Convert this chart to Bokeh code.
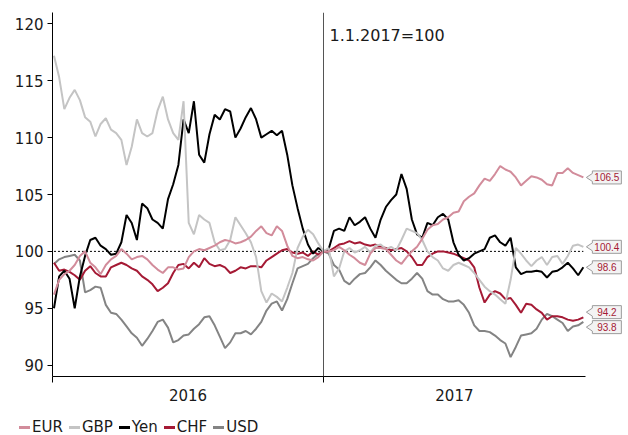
import pandas as pd
from bokeh.plotting import figure
from bokeh.layouts import column
from bokeh.models import Range1d, FixedTicker, Span, Label, Div
from bokeh.core.properties import value
from bokeh.embed import file_html
from bokeh.resources import INLINE

# ---------------- data (weekly, index 1.1.2017 = 100) ----------------
START = "2016-01-03"
SERIES = ["EUR", "GBP", "Yen", "CHF", "USD"]

EUR = [96.2, 97.5, 98.0, 98.3, 98.8, 99.6, 100.0, 99.0, 98.6, 98.0,
       98.8, 99.3, 99.6, 100.2, 99.8, 99.3, 99.5, 99.6, 99.3, 98.8,
       98.4, 98.1, 98.6, 98.6, 98.4, 98.5, 99.5, 100.0, 100.2, 100.1,
       100.3, 100.5, 100.8, 101.0, 100.9, 100.7, 100.8, 101.0, 101.3, 101.8,
       102.2, 101.6, 101.4, 102.2, 101.8, 100.5, 99.6, 99.4, 99.5, 99.3,
       99.2, 99.5, 100.0,
       100.0, 100.1, 100.4, 100.1, 99.7, 99.4, 99.0, 98.8, 99.8, 100.3,
       100.3, 100.2, 99.7, 99.2, 98.9, 99.5, 100.0, 100.4, 101.1, 101.9,
       102.3, 102.4, 102.8, 103.0, 103.4, 103.5, 104.4, 104.8, 105.1, 105.8,
       106.4, 106.2, 106.8, 107.5, 107.2, 107.0, 106.5, 105.8, 106.2, 106.6,
       106.5, 106.3, 105.9, 105.8, 106.9, 106.9, 107.3, 106.9, 106.7, 106.5]

GBP = [117.2, 115.3, 112.5, 113.5, 114.2, 113.3, 111.8, 111.4, 110.1, 111.2,
       111.7, 110.7, 110.4, 109.8, 107.6, 109.2, 111.6, 110.4, 110.1, 110.4,
       112.4, 113.6, 111.6, 110.4, 109.8, 113.2, 102.5, 101.5, 103.2, 102.8,
       102.5, 100.8, 100.1, 100.2, 101.0, 103.0, 102.3, 101.6, 100.8, 99.5,
       96.5, 95.5, 96.3, 96.0, 95.6, 96.8, 98.1, 100.3, 101.3, 101.9,
       101.5, 100.7, 100.0,
       100.3, 97.8, 98.5, 100.0, 100.3, 99.9, 100.1, 100.4, 99.9, 100.5,
       100.6, 100.2, 100.4, 100.1, 101.0, 102.0, 101.8, 101.6, 101.0, 100.0,
       99.5, 99.2, 98.5, 98.3, 98.8, 99.0, 98.8, 98.6, 98.1, 97.5,
       96.9, 96.5, 96.2, 95.8, 95.4, 97.5, 100.3, 99.8, 99.2, 98.7,
       99.2, 99.5, 98.8, 99.5, 99.6, 98.9, 99.6, 100.5, 100.6, 100.4]

YEN = [95.0, 97.8, 98.3, 97.6, 95.0, 97.8, 99.6, 101.0, 101.2, 100.5,
       100.2, 99.7, 99.8, 100.8, 103.2, 102.5, 101.0, 104.2, 103.8, 102.8,
       102.5, 102.0, 104.6, 105.9, 107.6, 111.6, 110.4, 113.2, 108.5, 107.8,
       110.3, 112.0, 111.6, 112.5, 112.3, 110.0, 110.8, 111.8, 112.6, 111.6,
       110.0, 110.3, 110.6, 110.2, 110.6, 108.5, 105.8, 103.8, 102.0, 100.6,
       99.8, 100.3, 100.0,
       100.2, 101.8, 102.0, 101.8, 103.0, 102.3, 102.6, 103.0, 102.0, 101.2,
       102.8, 103.9, 104.5, 105.0, 106.8, 105.5, 102.8, 101.5, 101.2, 102.5,
       102.3, 103.0, 103.3, 102.8, 100.8, 99.7, 99.2, 99.4, 99.8, 100.0,
       100.2, 101.2, 101.4, 100.8, 100.5, 101.2, 98.6, 98.0, 98.2, 98.2,
       98.3, 98.2, 97.7, 98.2, 98.3, 98.6, 99.0, 98.5, 97.9, 98.6]

CHF = [99.0, 98.3, 98.4, 98.2, 97.9, 97.5, 98.3, 98.7, 98.1, 97.8,
       97.8, 98.6, 98.8, 99.0, 98.8, 98.5, 98.3, 97.8, 97.5, 97.1,
       96.5, 96.8, 97.2, 98.1, 98.8, 98.9, 98.5, 99.0, 98.6, 99.4,
       98.9, 98.7, 98.8, 98.6, 98.1, 98.3, 98.6, 98.5, 98.7, 98.7,
       98.6, 99.2, 99.5, 99.8, 100.1, 100.2, 99.9, 99.8, 99.9, 99.6,
       100.0, 99.7, 100.0,
       100.0, 100.3, 100.6, 100.7, 100.9, 100.7, 100.8, 100.6, 100.5, 100.6,
       100.4, 100.3, 100.1, 100.2, 100.3, 100.0, 99.5, 98.8, 98.8, 99.5,
       99.8, 100.0, 100.0, 99.9, 99.8, 99.6, 99.4, 99.2, 98.6, 96.8,
       95.5, 96.2, 96.5, 96.3, 95.8, 95.9, 95.3, 94.6, 95.4, 95.3,
       94.9, 94.6, 94.0, 94.3, 94.3, 94.2, 94.0, 93.9, 94.0, 94.2]

USD = [98.9, 99.3, 99.5, 99.6, 99.7, 99.2, 96.4, 96.6, 96.9, 96.8,
       95.3, 94.6, 94.5, 94.0, 93.4, 92.8, 92.4, 91.7, 92.3, 93.0,
       93.8, 94.0, 93.3, 92.0, 92.2, 92.6, 92.7, 93.2, 93.6, 94.2,
       94.3, 93.5, 92.5, 91.5, 92.0, 92.8, 92.8, 93.0, 92.7, 93.2,
       93.8, 94.8, 95.4, 95.6, 94.8, 95.8, 97.2, 98.5, 98.7, 98.9,
       99.4, 99.8, 100.0,
       99.8, 98.8, 98.4, 97.4, 97.1, 97.6, 98.0, 98.1, 98.6, 99.2,
       98.8, 98.3, 97.9, 97.5, 97.2, 97.2, 97.6, 98.1, 97.6, 96.5,
       96.2, 96.2, 95.8, 95.6, 95.6, 95.7, 95.3, 94.6, 93.5, 93.0,
       93.0, 92.9, 92.6, 92.2, 91.9, 90.7, 91.6, 92.6, 92.7, 92.8,
       93.2, 94.0, 94.5, 94.3, 94.0, 93.7, 93.0, 93.4, 93.5, 93.8]

BASE = 100
BASE_TEXT = "1.1.2017=100"
YEARS = [2016, 2017]
YEAR_LABELS = ["2016", "2017"]
Y_TICKS = [90, 95, 100, 105, 110, 115, 120]

VALUES = {"EUR": EUR, "GBP": GBP, "Yen": YEN, "CHF": CHF, "USD": USD}
COLORS = {"EUR": "#d28c9b", "GBP": "#c4c4c4", "Yen": "#000000",
          "CHF": "#a51a35", "USD": "#848484"}

# ---------------- geometry ----------------
W = 628
H1, H2 = 410, 25
ML, MR, MT, MB = 52, 0, 12, 34
FRAME_W = W - ML - MR
FRAME_H = H1 - MT - MB
PX_PER_YEAR = 271.0
X0 = 2016.0
X1 = X0 + FRAME_W / PX_PER_YEAR
Y0, Y1 = 89.0, 121.0
SX = FRAME_W / (X1 - X0)
SY = FRAME_H / (Y1 - Y0)

dates = pd.date_range(START, periods=len(EUR), freq="7D")
xs = [d.year + (d.dayofyear - 1) / (366.0 if d.is_leap_year else 365.0) for d in dates]
x_end = xs[-1] + 2.0 / SX

FONT = "DejaVu Sans"

p = figure(width=W, height=H1, x_range=Range1d(X0, X1), y_range=Range1d(Y0, Y1),
           output_backend="svg", toolbar_location=None, title=None,
           min_border_left=ML, min_border_right=MR, min_border_top=MT,
           min_border_bottom=MB)
p.outline_line_color = None
p.grid.visible = False
p.background_fill_color = "white"
p.border_fill_color = "white"

# reference line at 100 (under the series)
p.line([xs[0], xs[-1]], [BASE, BASE], line_color="black", line_width=1,
       line_dash="2 2")

for name in reversed(SERIES):
    p.line(xs, VALUES[name], line_color=COLORS[name], line_width=2)

# vertical line at start of 2017
p.add_layout(Span(location=float(YEARS[1]), dimension="height",
                  line_color="#555555", line_width=1))
p.add_layout(Label(x=float(YEARS[1]), y=Y1, x_offset=6, y_offset=-23,
                   text=BASE_TEXT, text_font=FONT, text_font_size="16px",
                   text_color="#1a1a1a", text_baseline="alphabetic"))

# ---------------- axes ----------------
mid16 = (YEARS[0] + YEARS[1]) / 2.0
mid17 = round((YEARS[1] + x_end) / 2.0, 4)
xa = p.xaxis[0]
xa.ticker = FixedTicker(ticks=[mid16, mid17], minor_ticks=[float(y) for y in YEARS])
xa.major_label_overrides = {mid16: YEAR_LABELS[0], mid17: YEAR_LABELS[1]}
xa.major_tick_out = 0
xa.major_tick_in = 0
xa.minor_tick_out = 6
xa.minor_tick_in = 0
xa.minor_tick_line_color = "black"
xa.bounds = (X0, x_end)
xa.axis_line_color = "black"
xa.major_label_standoff = 6
xa.major_label_text_font = FONT
xa.major_label_text_font_size = "15px"
xa.major_label_text_color = "#1a1a1a"

ya = p.yaxis[0]
ya.ticker = FixedTicker(ticks=Y_TICKS)
ya.major_tick_out = 5
ya.major_tick_in = 0
ya.minor_tick_out = 0
ya.minor_tick_in = 0
ya.major_tick_line_color = "black"
ya.axis_line_color = "black"
ya.major_label_standoff = 4
ya.major_label_text_font = FONT
ya.major_label_text_font_size = "15px"
ya.major_label_text_color = "#1a1a1a"

# ---------------- end-value callouts ----------------
lasts = sorted(((VALUES[n][-1], n) for n in SERIES), reverse=True)
GAP = 15.0


def layout(g):
    c = sum(a for a, _ in g) / len(g)
    return [c + GAP * ((len(g) - 1) / 2.0 - i) for i in range(len(g))]


groups = []
for v, n in lasts:
    groups.append([(v * SY, n)])
    while len(groups) > 1:
        up = layout(groups[-2])
        lo = layout(groups[-1])
        if up[-1] - lo[0] < GAP:
            last = groups.pop()
            groups[-1].extend(last)
        else:
            break
label_pos = {}
for g in groups:
    for pos, (_, n) in zip(layout(g), g):
        label_pos[n] = pos / SY

xl = xs[-1]
x_tip, x_b0, x_b1 = xl + 3 / SX, xl + 9 / SX, xl + 38 / SX
hb, hp = 6.5 / SY, 4 / SY
pxs, pys, tx, ty, tt = [], [], [], [], []
for n in SERIES:
    yc = label_pos[n]
    pxs.append([x_tip, x_b0, x_b0, x_b1, x_b1, x_b0, x_b0])
    pys.append([yc, yc + hp, yc + hb, yc + hb, yc - hb, yc - hb, yc - hp])
    tx.append((x_b0 + x_b1) / 2)
    ty.append(yc)
    tt.append(f"{VALUES[n][-1]:.1f}")
p.patches(pxs, pys, fill_color="#f3f3f3", line_color="#9c9c9c", line_width=1)
p.text(tx, ty, text=tt, text_font=value("Liberation Sans"),
       text_font_size="10px", text_align="center", text_baseline="middle",
       text_color="#a51a35")

# ---------------- legend strip ----------------
items = "".join(
    f'<span style="display:inline-flex;align-items:center;margin-right:6px">'
    f'<span style="display:inline-block;width:11px;height:3px;background:{COLORS[n]};'
    f'margin-right:2px"></span><span>{n}</span></span>'
    for n in SERIES)
legend_html = (
    f'<div style="position:relative;width:{W}px;height:{H2}px;overflow:hidden">'
    f'<div style="position:absolute;left:19px;top:10px;display:flex;align-items:center;'
    f'font-family:\'DejaVu Sans\';font-size:15px;line-height:15px;color:#1a1a1a;'
    f'white-space:nowrap">{items}</div></div>')
legend = Div(text=legend_html, width=W, height=H2, margin=0)

page = column(p, legend, spacing=0)
open("out.html", "w").write(file_html(page, INLINE))
